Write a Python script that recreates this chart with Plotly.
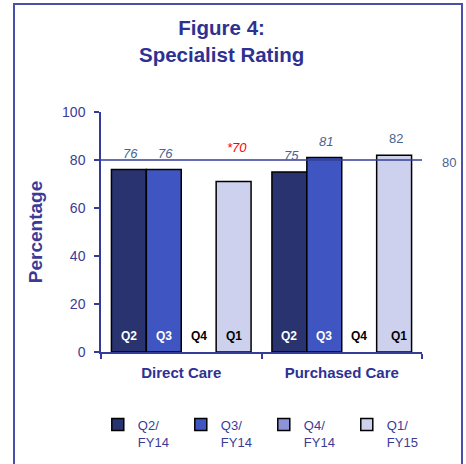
import plotly.graph_objects as go

# ---- data ----
categories = ["Direct Care", "Purchased Care"]
series_names = ["Q2/<br>FY14", "Q3/<br>FY14", "Q4/<br>FY14", "Q1/<br>FY15"]
short_names = ["Q2", "Q3", "Q4", "Q1"]
values = [
    [76, 75],      # Q2 FY14
    [76, 81],      # Q3 FY14
    [None, None],  # Q4 FY14 (no data)
    [71, 82],      # Q1 FY15
]
value_labels = [
    ["76", "75"],
    ["76", "81"],
    [None, None],
    ["*70", "82"],
]
benchmark = 80
y_ticks = [0, 20, 40, 60, 80, 100]

# ---- styles ----
FONT = "Liberation Sans, Arial, sans-serif"
fill_colors = ["#29336f", "#3f56c2", "#8d93d8", "#cdd1ee"]
inner_text_colors = ["white", "white", "black", "black"]
AXIS = "#343c96"
TITLE = "#2e3192"
LABEL = "#4a6593"

W, H = 466, 464
ML, MR, MT, MB = 101, 44, 112, 112
PW = W - ML - MR
PH = H - MT - MB
BARGAP = 0.13
bar_px = PW / len(categories) * (1 - BARGAP) / len(short_names)

fig = go.Figure()
for i, name in enumerate(series_names):
    fig.add_trace(go.Bar(
        x=categories, y=values[i], name=name,
        marker=dict(color=fill_colors[i], line=dict(color="black", width=1.5)),
        hoverinfo="skip",
    ))

annotations = []
for i in range(len(short_names)):
    shift = (i - 1.5) * bar_px
    for j, cat in enumerate(categories):
        # inner series label
        annotations.append(dict(
            x=cat, y=0, xref="x", yref="y", xshift=shift + (5 if (i == 3 and j == 1) else 0),
            yshift=7, yanchor="bottom", xanchor="center",
            text="<b>%s</b>" % short_names[i], showarrow=False,
            font=dict(family=FONT, size=12, color=inner_text_colors[i]),
        ))
        lab = value_labels[i][j]
        if lab is None:
            continue
        special = lab.startswith("*")
        italic = not (i == 3 and j == 1)
        txt = "<i>%s</i>" % lab if italic else lab
        annotations.append(dict(
            x=cat, y=values[i][j], xref="x", yref="y", xshift=shift + (3 if special else 2),
            yshift=25 if special else 7, yanchor="bottom", xanchor="center",
            text=txt, showarrow=False,
            font=dict(family=FONT, size=13, color="#ff0000" if special else LABEL),
        ))

annotations.append(dict(
    x=(449 - ML) / PW, y=benchmark, xref="paper", yref="y", text=str(benchmark),
    xanchor="center", yanchor="middle", yshift=-2,
    showarrow=False, font=dict(family=FONT, size=13, color=LABEL),
))

# title as annotation for precise placement
annotations.append(dict(
    x=(221 - ML) / PW, y=1 + (MT - 14) / PH, xref="paper", yref="paper",
    xanchor="center", yanchor="top", showarrow=False,
    text="<b>Figure 4:<br>Specialist Rating</b>",
    font=dict(family=FONT, size=20.5, color=TITLE),
))

shapes = [
    dict(type="line", xref="paper", yref="y", x0=0, x1=1, y0=benchmark, y1=benchmark,
         line=dict(color=AXIS, width=1.5)),
    dict(type="rect", xref="paper", yref="paper",
         x0=(14 - ML) / PW, x1=(462 - ML) / PW,
         y0=-0.6, y1=1 + (MT - 4) / PH,
         line=dict(color="#4a4faa", width=2), fillcolor="rgba(0,0,0,0)"),
]

fig.update_layout(
    width=W, height=H,
    margin=dict(l=ML, r=MR, t=MT, b=MB, autoexpand=False),
    paper_bgcolor="white", plot_bgcolor="white",
    barmode="group", bargap=BARGAP, bargroupgap=0,
    font=dict(family=FONT, color=AXIS),
    xaxis=dict(showline=True, linecolor=AXIS, linewidth=1.5, ticks="outside",
               tickson="boundaries", ticklen=5, tickcolor=AXIS, tickwidth=1.5,
               tickfont=dict(family=FONT, size=15, color=TITLE),
               tickprefix="<b>", ticksuffix="</b>", ticklabelstandoff=6,
               showgrid=False, fixedrange=True),
    yaxis=dict(range=[0, 100], tickvals=y_ticks, showline=True, linecolor=AXIS,
               linewidth=1.5, ticks="outside", ticklen=5, tickcolor=AXIS, tickwidth=1.5,
               tickfont=dict(family=FONT, size=14, color="#3b3b96"), ticklabelstandoff=6,
               showgrid=False, zeroline=False,
               title=dict(text="<b>Percentage</b>", standoff=14,
                          font=dict(family=FONT, size=19, color="#3b3b96"))),
    legend=dict(orientation="h", x=-0.01, xanchor="left", y=-0.24, yanchor="top",
                entrywidth=38, entrywidthmode="pixels", valign="top",
                font=dict(family=FONT, size=13, color="#3b3b96"), traceorder="normal",
                itemclick=False, itemdoubleclick=False),
    annotations=annotations,
    shapes=shapes,
    showlegend=True,
)

fig.write_html("out.html", config={"displayModeBar": False},
               post_script="document.body.style.margin='0';")
